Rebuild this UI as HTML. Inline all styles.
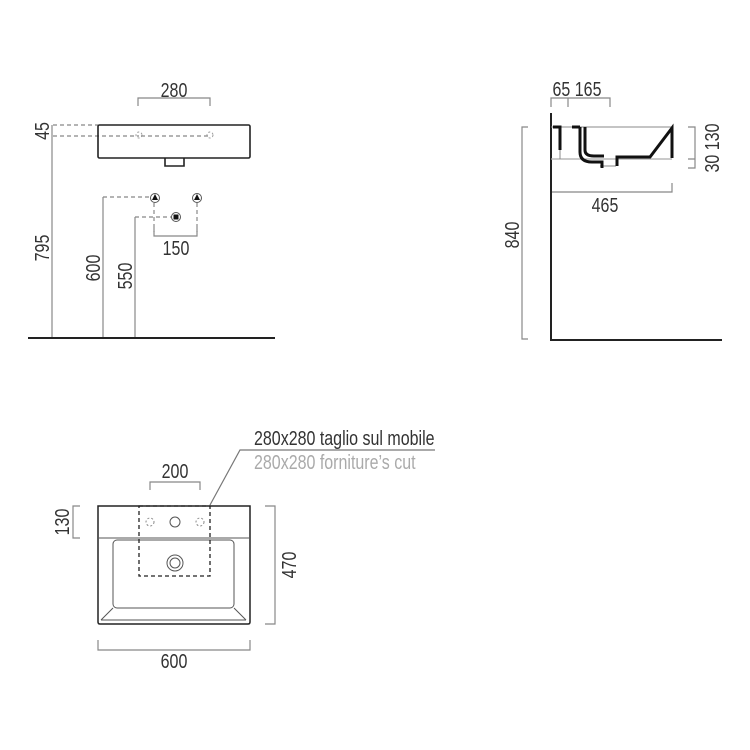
<!DOCTYPE html>
<html><head><style>
html,body{margin:0;padding:0;background:#fff;}
svg{display:block;}
text{font-family:"Liberation Sans",sans-serif;font-size:20px;fill:#333;}
</style></head><body>
<svg width="750" height="750" viewBox="0 0 750 750" xmlns="http://www.w3.org/2000/svg">
<g fill="none" stroke="#888" stroke-width="1.2">
<path d="M138 106V98H210V106"/>
<path d="M52 338V125"/>
<path d="M53 125H98M53 136H139M141 136H208" stroke-dasharray="4,3"/>
<path d="M103 338V197"/>
<path d="M103 197H150M135 217H171M154 203V232M197 203V232" stroke-dasharray="4,3"/>
<path d="M135 338V217"/>
<path d="M154 228V236H197V228"/>
<path d="M528 127H522V339H528"/>
<path d="M551 107V98H610V107M568 98V107"/>
<path d="M688 127H695V168H688M688 159H695"/>
<path d="M551 192H672V183"/>
<path d="M150 490V482H200V490"/>
<path d="M80 506H73V538H80"/>
<path d="M265 506H275V624H265"/>
<path d="M98 640V650H250V640"/>
<path d="M210 505L240 450H435" stroke="#777"/>
</g>
<g fill="none" stroke="#222" stroke-width="1.6">
<rect x="98" y="125" width="152" height="33" rx="1.5"/>
<path d="M165 158V166H184V158"/>
</g>
<g fill="none" stroke="#999" stroke-width="1" stroke-dasharray="2,2">
<circle cx="139" cy="135" r="3"/><circle cx="210" cy="135" r="3"/>
</g>
<g>
<circle cx="155" cy="198" r="4.5" fill="#fff" stroke="#555"/>
<path d="M152 200L155 194L158 200Z" fill="#111"/>
<circle cx="197" cy="198" r="4.5" fill="#fff" stroke="#555"/>
<path d="M194 200L197 194L200 200Z" fill="#111"/>
<circle cx="176" cy="217" r="4.5" fill="#fff" stroke="#555"/>
<rect x="173.5" y="214.5" width="5" height="5" fill="#111"/>
</g>
<path d="M28 338H275" stroke="#222" stroke-width="2"/>
<path d="M551 113V340H722" fill="none" stroke="#222" stroke-width="2"/>
<path d="M551 159H672" stroke="#aaa" stroke-width="1.2"/>
<path d="M551 127H672V158M560 150V159M600 166H616" fill="none" stroke="#888" stroke-width="1"/>
<g fill="none" stroke="#111" stroke-width="3">
<path d="M553 127H560V150"/>
<path d="M572 127H580"/>
<path d="M580 127V152Q580 162 592 162H602V168"/>
<path d="M585 127V150Q585 156 594 156H604"/>
<path d="M617 166V157H650L672 128V158"/>
</g>
<g fill="none" stroke="#222" stroke-width="1.5">
<path d="M98 506H250V622Q250 624 248 624H100Q98 624 98 622Z"/>
</g>
<g fill="none" stroke="#555" stroke-width="1">
<path d="M99 538H249"/>
<rect x="113" y="540" width="121" height="68" rx="4"/>
<path d="M113 608L101 620M234 608L246 620M101 620H246"/>
<circle cx="175" cy="522" r="5"/>
<circle cx="175" cy="563" r="8"/><circle cx="175" cy="563" r="5"/>
</g>
<g fill="none" stroke="#888" stroke-width="1" stroke-dasharray="2,2">
<circle cx="150" cy="522" r="4"/><circle cx="200" cy="522" r="4"/>
</g>
<rect x="139" y="506" width="71" height="70" fill="none" stroke="#222" stroke-width="1.3" stroke-dasharray="4,3"/>
<text transform="translate(174,97) scale(0.8,1)" text-anchor="middle">280</text>
<text transform="translate(176,255) scale(0.8,1)" text-anchor="middle">150</text>
<text transform="translate(49,131) rotate(-90) scale(0.8,1)" text-anchor="middle">45</text>
<text transform="translate(49,248) rotate(-90) scale(0.8,1)" text-anchor="middle">795</text>
<text transform="translate(100,268) rotate(-90) scale(0.8,1)" text-anchor="middle">600</text>
<text transform="translate(132,276) rotate(-90) scale(0.8,1)" text-anchor="middle">550</text>
<text transform="translate(577,96) scale(0.8,1)" text-anchor="middle">65 165</text>
<text transform="translate(605,212) scale(0.8,1)" text-anchor="middle">465</text>
<text transform="translate(519,235) rotate(-90) scale(0.8,1)" text-anchor="middle">840</text>
<text transform="translate(719,148) rotate(-90) scale(0.8,1)" text-anchor="middle">30 130</text>
<text transform="translate(175,478) scale(0.8,1)" text-anchor="middle">200</text>
<text transform="translate(69,522) rotate(-90) scale(0.8,1)" text-anchor="middle">130</text>
<text transform="translate(296,565) rotate(-90) scale(0.8,1)" text-anchor="middle">470</text>
<text transform="translate(174,668) scale(0.8,1)" text-anchor="middle">600</text>
<text transform="translate(254,445) scale(0.8,1)">280x280 taglio sul mobile</text>
<text transform="translate(254,469) scale(0.8,1)" style="fill:#aaa">280x280 forniture’s cut</text>
</svg>
</body></html>
